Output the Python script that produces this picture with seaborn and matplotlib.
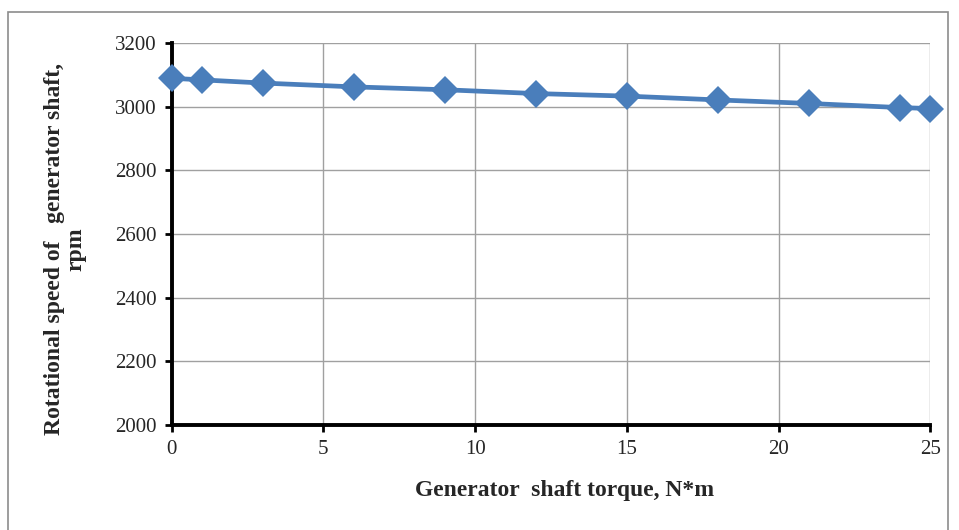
import numpy as np
import pandas as pd
import matplotlib.pyplot as plt
import seaborn as sns
from matplotlib.patches import Rectangle

torque = [0, 1, 3, 6, 9, 12, 15, 18, 21, 24, 25]
speed = [3089, 3084, 3074, 3062, 3053, 3041, 3033, 3021, 3010, 2997, 2994]

df = pd.DataFrame({"torque": torque, "speed": speed})

sns.set_style("white")
plt.rcParams["font.family"] = ["Liberation Serif", "DejaVu Serif"]

fig = plt.figure(figsize=(9.59, 5.30), dpi=100)
ax = fig.add_axes([0.179, 0.198, 0.791, 0.721])

sns.lineplot(data=df, x="torque", y="speed", ax=ax, color="#4a7ebb",
             linewidth=3.4, marker="D", markersize=14, markeredgewidth=0,
             zorder=3, clip_on=False)

ax.set_xlim(0, 25)
ax.set_ylim(2000, 3200)
ax.set_xticks(np.arange(0, 26, 5))
ax.set_yticks(np.arange(2000, 3201, 200))
ax.grid(True, color="#a0a0a0", linewidth=1)

for s in ["top", "right"]:
    ax.spines[s].set_visible(False)
for s in ["left", "bottom"]:
    ax.spines[s].set_color("black")
    ax.spines[s].set_linewidth(2.8)

ax.tick_params(axis="both", direction="out", length=5, width=2, color="black",
               labelsize=15, pad=6, left=True, bottom=True)

ax.set_xlabel("Generator  shaft torque, N*m", fontsize=17, fontweight="bold")
ax.set_ylabel("Rotational speed of   generator shaft,\nrpm", fontsize=17,
              fontweight="bold", linespacing=1.05)
ax.xaxis.set_label_coords(0.518, -0.145)
ax.yaxis.set_label_coords(-0.112, 0.46)

fig.add_artist(Rectangle((8 / 959, -0.01), 940 / 959, 1 - 12 / 530 + 0.01,
                         transform=fig.transFigure, fill=False,
                         edgecolor="#8c8c8c", linewidth=1.2))

fig.savefig("out.png", dpi=100)
